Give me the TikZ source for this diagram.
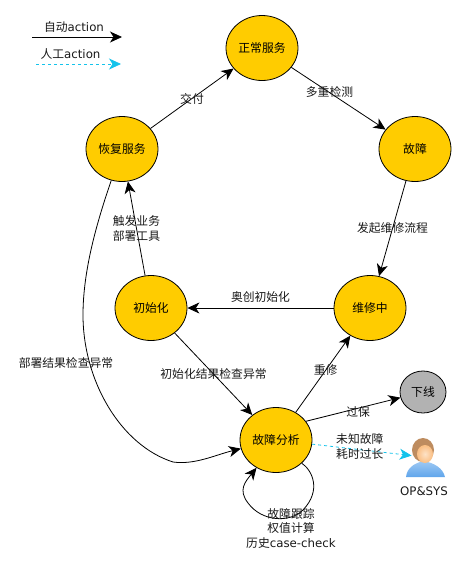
\documentclass[tikz,border=0pt]{standalone}
\usepackage{fontspec}
\setmainfont{DejaVu Sans}
\newfontfamily\cjk{Noto Sans CJK SC}
\usetikzlibrary{arrows.meta,shapes.geometric}
\definecolor{stategold}{RGB}{255,204,0}
\definecolor{offgray}{RGB}{178,178,178}
\definecolor{manualcyan}{RGB}{20,195,235}
\definecolor{hairbrown}{RGB}{190,140,95}
\definecolor{skinpeach}{RGB}{250,190,130}
\definecolor{shirtblue}{RGB}{95,165,235}
\tikzset{
  state node/.style={ellipse,draw,fill=stategold,line width=.8pt,inner sep=0pt,minimum width=72pt,minimum height=65pt,font=\fontsize{11.8}{14}\cjk},
  off node/.style={state node,fill=offgray,minimum width=46pt,minimum height=42pt},
  flow label/.style={font=\fontsize{11.8}{14.5}\cjk,align=center,inner sep=0pt,text=black!90}
}
\begin{document}
\begin{tikzpicture}[x=1pt,y=-1pt,>={Stealth[length=12pt,width=11pt,inset=3.5pt]},line width=.8pt]
  \useasboundingbox (0,0) rectangle (466,566);
  \node[state node] (normal) at (262,48) {正常服务};
  \node[state node] (fault) at (415,149) {故障};
  \node[state node] (recover) at (122,149) {恢复服务};
  \node[state node] (init) at (151,308) {初始化};
  \node[state node] (repair) at (370,308) {维修中};
  \node[state node] (analysis) at (276,440) {故障分析};
  \node[off node] (offline) at (423,392) {下线};
  % legend
  \coordinate (autoa) at (32,37);
  \coordinate (autob) at (122,37);
  \coordinate (mana) at (36,64);
  \coordinate (manb) at (121,64);
  \draw[->] (autoa) -- node[flow label,above=4pt,xshift=-3pt] {{\cjk 自动}{\rmfamily action}} (autob);
  \draw[->,manualcyan,dashed] (mana) -- node[flow label,above=4pt,xshift=-8pt] {{\cjk 人工}{\rmfamily action}} (manb);
  % person
  \node[inner sep=0pt,minimum width=24pt,minimum height=40pt] (person) at (424,457) {};
  \shade[top color=shirtblue!60,bottom color=shirtblue] (406,477) .. controls (407,468) and (414,463) .. (424,461) .. controls (434,463) and (443,468) .. (445,477) -- cycle;
  \fill[hairbrown] (423,450) ellipse (11pt and 12pt);
  \shade[inner color=skinpeach!45,outer color=skinpeach] (425,454) ellipse (8pt and 9pt);
  \node[flow label] (opsys) at (424,491) {{\rmfamily OP\&SYS}};
  \path[every node/.style={flow label}]
    (recover) edge[->] node {交付} (normal)
    (normal) edge[->] node[xshift=-9pt,yshift=7pt] {多重检测} (fault)
    (fault) edge[->] node[pos=.5] {发起维修流程} (repair)
    (repair) edge[->] node[yshift=11pt] {奥创初始化} (init)
    (init) edge[->] node[pos=.5] {触发业务\\部署工具} (recover)
    (init) edge[->] node[pos=.5] {初始化结果检查异常} (analysis)
    (analysis) edge[->] node[pos=.55] {重修} (repair)
    (analysis.32) edge[->] node[pos=.5,xshift=5pt,yshift=-3pt] {过保} (offline)
    (analysis) edge[->,manualcyan,dashed] node[text=black!90,pos=.57,xshift=-9pt,yshift=4pt] {未知故障\\耗时过长} (person);
  \draw[->] (recover) .. controls (97,222) and (83,270) .. (83,315) .. controls (83,380) and (120,445) .. (173,462) .. controls (195,465) and (215,455) .. (analysis);
  \node[flow label] (deploy) at (66,363) {部署结果检查异常};
  \draw[->] (analysis.-42) .. controls (312,470) and (322,490) .. (303,510) .. controls (290,523) and (262,522) .. (248,503) .. controls (238,490) and (245,482) .. (analysis.-125);
  \node[flow label] (check) at (291,528) {故障跟踪\\权值计算\\历史{\rmfamily case-check}};
\end{tikzpicture}
\end{document}
